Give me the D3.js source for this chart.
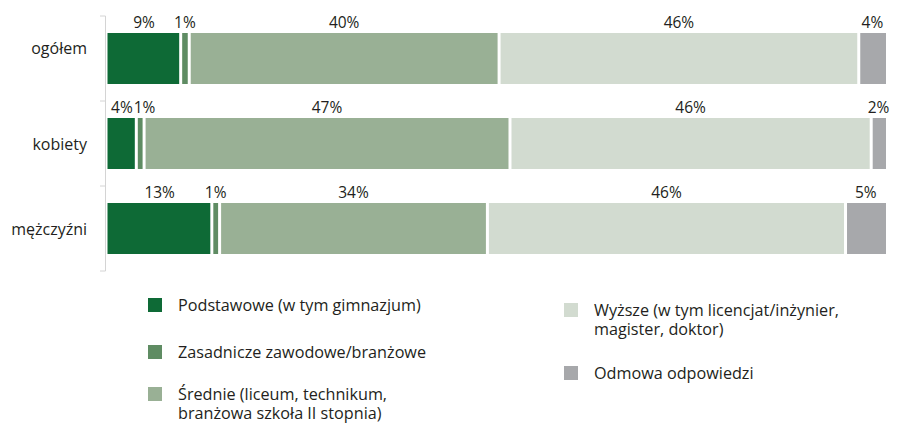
<!DOCTYPE html>
<html>
<head>
<meta charset="utf-8">
<script src="https://cdn.jsdelivr.net/npm/d3@7"></script>
<style>
  html, body { margin: 0; padding: 0; background: #fff; }
  svg { display: block; font-family: "Open Sans", sans-serif; }
</style>
</head>
<body>
<svg id="chart" width="900" height="423"></svg>
<script>
// ---- data ----
const categories = ["ogółem", "kobiety", "mężczyźni"];
const seriesNames = [
  "Podstawowe (w tym gimnazjum)",
  "Zasadnicze zawodowe/branżowe",
  "Średnie (liceum, technikum,\nbranżowa szkoła II stopnia)",
  "Wyższe (w tym licencjat/inżynier,\nmagister, doktor)",
  "Odmowa odpowiedzi"
];
const podstawowe  = [9.4, 3.7, 13.4];
const zasadnicze  = [1.1, 1.0, 1.0];
const srednie     = [39.8, 47.0, 34.4];
const wyzsze      = [46.2, 46.4, 46.0];
const odmowa      = [3.5, 1.9, 5.2];
const colors = ["#0e6a36", "#5f8c63", "#99b095", "#d2dbd0", "#a7a8ab"];

// ---- build table ----
const seriesValues = [podstawowe, zasadnicze, srednie, wyzsze, odmowa];
const rows = categories.map((c, i) => {
  const r = { cat: c };
  seriesNames.forEach((s, j) => r[s] = seriesValues[j][i]);
  return r;
});
const stack = d3.stack().keys(seriesNames)(rows);

const svg = d3.select("#chart");
const x = d3.scaleLinear().domain([0, 100]).range([107.5, 886]);
const y = d3.scaleBand().domain(categories).range([16, 271]).paddingInner(0.4).paddingOuter(0.2);
const color = d3.scaleOrdinal().domain(seriesNames).range(colors);

// axis line with ticks at band boundaries
const axisG = svg.append("g");
axisG.append("line").attr("x1", 105.5).attr("x2", 105.5).attr("y1", 16).attr("y2", 271)
  .attr("stroke", "#d4d4d4").attr("stroke-width", 1);
const bounds = [16].concat(categories.map(c => y(c) + y.bandwidth() + y.step() * y.paddingInner() / 2));
bounds[bounds.length - 1] = 271;
bounds.forEach(b => {
  axisG.append("line").attr("x1", 100).attr("x2", 105.5).attr("y1", b).attr("y2", b)
    .attr("stroke", "#d4d4d4").attr("stroke-width", 1);
});

// category labels
const labelDy = [-11, 0, 0];
svg.append("g").selectAll("text").data(categories).join("text")
  .attr("x", 87)
  .attr("y", (d, i) => y(d) + y.bandwidth() / 2 + labelDy[i])
  .attr("text-anchor", "end")
  .attr("dominant-baseline", "central")
  .attr("font-size", 16)
  .attr("fill", "#231f20")
  .text(d => d);

// bars
const gap = 1.5;
const layers = svg.append("g").selectAll("g").data(stack).join("g")
  .attr("fill", d => color(d.key));
layers.each(function(layer, li) {
  const g = d3.select(this);
  const last = li === stack.length - 1;
  g.selectAll("rect").data(layer).join("rect")
    .attr("x", d => x(d[0]) + (li > 0 ? gap : 0))
    .attr("width", d => Math.max(0, x(d[1]) - x(d[0]) - (li > 0 ? gap : 0) - (last ? 0 : gap)))
    .attr("y", d => y(d.data.cat))
    .attr("height", y.bandwidth());
});

// value labels (centered on segment, pushed right if colliding with previous)
const labelG = svg.append("g");
categories.forEach((cat, ci) => {
  let prevRight = -Infinity;
  stack.forEach((layer, li) => {
    const d = layer[ci];
    const cx = (x(d[0]) + x(d[1])) / 2;
    const t = labelG.append("text")
      .attr("y", y(cat) - 5)
      .attr("text-anchor", "middle")
      .attr("font-size", 15.5)
      .attr("fill", "#231f20")
      .text(Math.round(d[1] - d[0]) + "%");
    const w = t.node().getComputedTextLength();
    let px = cx;
    if (px - w / 2 < prevRight + 1) px = prevRight + 1 + w / 2;
    px = Math.min(px, 900 - w / 2 - 1);
    t.attr("x", px);
    prevRight = px + w / 2;
  });
});

// legend
const legendPos = [
  { x: 148, y: 298 }, { x: 148, y: 345 }, { x: 148, y: 387 },
  { x: 564, y: 303 }, { x: 564, y: 366 }
];
const lg = svg.append("g").selectAll("g").data(seriesNames).join("g")
  .attr("transform", (d, i) => `translate(${legendPos[i].x},${legendPos[i].y})`);
lg.append("rect").attr("width", 14).attr("height", 14).attr("fill", d => color(d));
lg.each(function(d) {
  const t = d3.select(this).append("text")
    .attr("x", 30).attr("y", 13)
    .attr("font-size", 16.2).attr("fill", "#231f20");
  d.split("\n").forEach((line, k) => {
    t.append("tspan").attr("x", 30).attr("dy", k === 0 ? 0 : 19).text(line);
  });
});
</script>
</body>
</html>
